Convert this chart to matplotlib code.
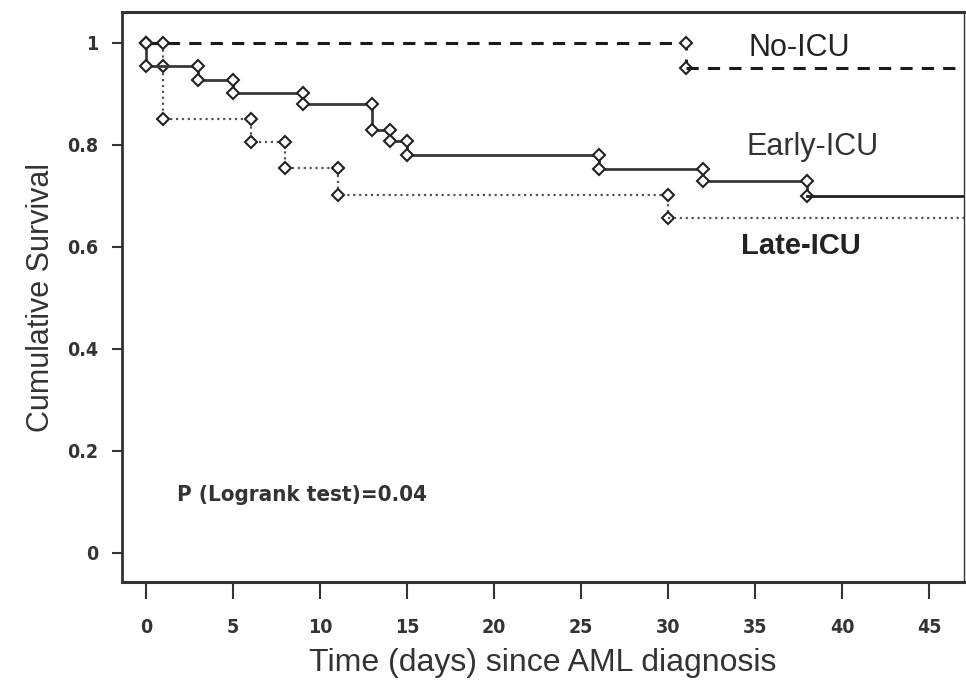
import matplotlib
matplotlib.use("Agg")
import matplotlib.pyplot as plt

# Kaplan-Meier step data
no_icu_t = [0, 31, 31, 47]
no_icu_s = [1.0, 1.0, 0.95, 0.95]

early_t = [0, 0, 3, 3, 5, 5, 9, 9, 13, 13, 14, 14, 15, 15, 26, 26, 32, 32, 38, 38, 47]
early_s = [1.0, 0.955, 0.955, 0.927, 0.927, 0.902, 0.902, 0.880, 0.880, 0.830,
           0.830, 0.808, 0.808, 0.780, 0.780, 0.753, 0.753, 0.730, 0.730, 0.700, 0.700]

late_t = [0, 1, 1, 1, 6, 6, 8, 8, 11, 11, 30, 30, 47]
late_s = [1.0, 1.0, 0.955, 0.851, 0.851, 0.806, 0.806, 0.755, 0.755, 0.702,
          0.702, 0.656, 0.656]

xticks = [0, 5, 10, 15, 20, 25, 30, 35, 40, 45]
yticks = [0, 0.2, 0.4, 0.6, 0.8, 1.0]
ylabels = ["0", "0.2", "0.4", "0.6", "0.8", "1"]

plt.rcParams["font.family"] = ["Liberation Sans", "DejaVu Sans"]

fig = plt.figure(figsize=(9.66, 6.83), dpi=100)
ax = fig.add_axes([0.126, 0.148, 0.872, 0.834])

mk = dict(marker="D", markersize=6.5, markerfacecolor="white", markeredgecolor="#222222",
          markeredgewidth=1.5)

ax.plot(late_t[:-1], late_s[:-1], linestyle=":", color="#555555", lw=1.6, **mk)
ax.plot(late_t[-2:], late_s[-2:], linestyle=":", color="#555555", lw=1.6)
ax.plot(early_t[:-1], early_s[:-1], linestyle="-", color="#3a3a3a", lw=2.0, **mk)
ax.plot(early_t[-2:], early_s[-2:], linestyle="-", color="#222222", lw=2.0)
ax.plot(no_icu_t[:-1], no_icu_s[:-1], linestyle=(0, (4, 3)), color="#1a1a1a", lw=2.2, **mk)
ax.plot(no_icu_t[-2:], no_icu_s[-2:], linestyle=(0, (4, 3)), color="#1a1a1a", lw=2.2)

ax.text(34.6, 0.99, "No-ICU", fontsize=22, color="#222222", va="center")
ax.text(34.5, 0.795, "Early-ICU", fontsize=22, color="#333333", va="center")
ax.text(34.2, 0.602, "Late-ICU", fontsize=21, color="#222222", va="center",
        fontweight="bold")
ax.text(1.8, 0.113, "P (Logrank test)=0.04", fontsize=16, color="#333333",
        va="center", fontweight="bold", fontstretch="condensed",
        family="DejaVu Sans")

ax.set_xlim(-1.4, 47)
ax.set_ylim(-0.057, 1.06)
ax.set_xticks(xticks)
ax.set_yticks(yticks)
ax.set_yticklabels(ylabels)
for lab in ax.get_xticklabels() + ax.get_yticklabels():
    lab.set_family("DejaVu Sans")
    lab.set_fontstretch("condensed")
    lab.set_fontweight("bold")
    lab.set_fontsize(14)
    lab.set_color("#333333")

ax.tick_params(axis="x", direction="out", length=12, width=1.5, color="#333333", pad=14)
ax.tick_params(axis="y", direction="out", length=7, width=1.5, color="#333333", pad=10)

ax.spines["left"].set_linewidth(2.0)
ax.spines["bottom"].set_linewidth(2.2)
ax.spines["top"].set_linewidth(2.2)
ax.spines["right"].set_linewidth(1.0)
for s in ax.spines.values():
    s.set_color("#333333")

ax.set_xlabel("Time (days) since AML diagnosis", fontsize=23, color="#333333", labelpad=8)
ax.set_ylabel("Cumulative Survival", fontsize=22, color="#333333", labelpad=8)

fig.savefig("out.png", dpi=100)
